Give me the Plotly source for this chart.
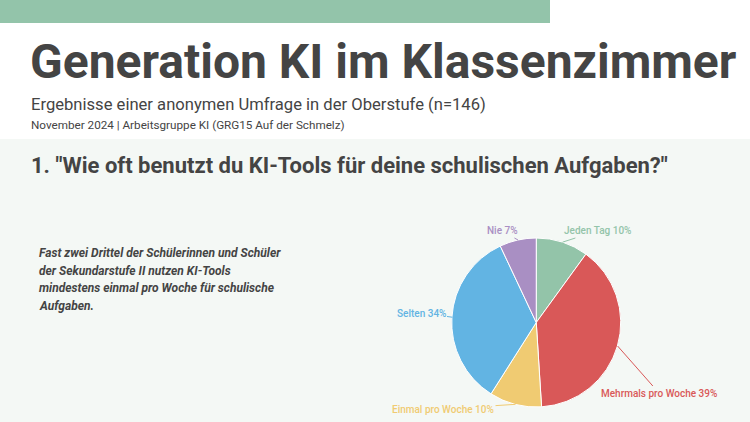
import math
import plotly.graph_objects as go

categories = ["Jeden Tag", "Mehrmals pro Woche", "Einmal pro Woche", "Selten", "Nie"]
values = [10, 39, 10, 34, 7]
colors = ["#93c4a9", "#d95858", "#f0cb72", "#62b4e3", "#a98fc3"]
# label text centres (px)
label_pos = [(597, 231), (659, 393), (443, 409), (421, 313), (502, 231)]

title = "Generation KI im Klassenzimmer"
subtitle = "Ergebnisse einer anonymen Umfrage in der Oberstufe (n=146)"
byline = "November 2024 | Arbeitsgruppe KI (GRG15 Auf der Schmelz)"
question = '1. "Wie oft benutzt du KI-Tools für deine schulischen Aufgaben?"'
note_lines = [
    "Fast zwei Drittel der Schülerinnen und Schüler",
    "der Sekundarstufe II nutzen KI-Tools",
    "mindestens einmal pro Woche für schulische",
    "Aufgaben.",
]

W, H = 750, 422
dark = "#444444"

# pie geometry (px)
cx, cy, r = 536.5, 322.5, 84.5
dom_x = [0.55, 0.88]
dom_y = [1 - (cy + r) / H, 1 - (cy - r) / H]

fig = go.Figure()
fig.add_trace(go.Pie(
    labels=categories,
    values=values,
    sort=False,
    direction="clockwise",
    rotation=0,
    marker=dict(colors=colors, line=dict(color="white", width=1)),
    textinfo="none",
    hoverinfo="label+percent",
    showlegend=False,
    domain=dict(x=dom_x, y=dom_y),
))

shapes = [
    dict(type="rect", xref="paper", yref="paper", x0=0, x1=1, y0=0, y1=1 - 139 / H,
         fillcolor="#f4f8f5", line=dict(width=0), layer="below"),
    dict(type="rect", xref="paper", yref="paper", x0=0, x1=550 / W, y0=1 - 23 / H, y1=1,
         fillcolor="#93c4aa", line=dict(width=0), layer="below"),
]

def ann(text, x, y, size, weight="normal", style="normal", color=dark):
    return dict(text=text, xref="paper", yref="paper", x=x / W, y=1 - y / H,
                xanchor="left", yanchor="middle", showarrow=False,
                font=dict(family="Roboto", size=size, color=color, weight=weight, style=style))

annotations = [
    ann(title, 28, 62, 48, weight="bold"),
    ann(subtitle, 29, 104, 16.6),
    ann(byline, 29, 125, 11.7),
    ann(question, 29, 165, 22, weight="bold"),
]
for i, line in enumerate(note_lines):
    annotations.append(ann(line, 37, 253 + i * 17.6, 12, weight="bold", style="italic"))

# slice labels with leader lines from the slice mid-angle on the rim
total = sum(values)
cum = 0
for cat, v, col, (lx, ly) in zip(categories, values, colors, label_pos):
    mid = (cum + v / 2) / total * 2 * math.pi
    cum += v
    px = cx + r * math.sin(mid)
    py = cy - r * math.cos(mid)
    annotations.append(dict(
        text=f"{cat} {round(v / total * 100)}%",
        xref="paper", yref="paper", x=px / W, y=1 - py / H,
        ax=lx - px, ay=ly - py, axref="pixel", ayref="pixel",
        showarrow=True, arrowhead=0, arrowwidth=1, arrowcolor=col,
        font=dict(family="Roboto", size=10, color=col, weight=500),
    ))

fig.update_layout(
    width=W, height=H,
    margin=dict(l=0, r=0, t=0, b=0, autoexpand=False),
    paper_bgcolor="white",
    plot_bgcolor="white",
    shapes=shapes,
    annotations=annotations,
)

fig.write_html("out.html")
